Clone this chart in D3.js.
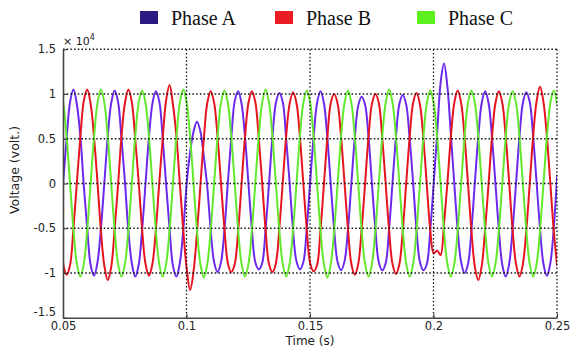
<!DOCTYPE html>
<html>
<head>
<meta charset="utf-8">
<script src="https://cdn.jsdelivr.net/npm/d3@7"></script>
<style>
  html, body { margin: 0; padding: 0; background: #fff; }
  svg { display: block; }
</style>
</head>
<body>
<div id="chart"></div>
<script>
// values in units of 1e4 volts, sampled every 1/720 s starting at tStart
const tStart = 0.04869;
const tStep = 1 / 720;

const phaseA = [
  -0.52, 0.02, 0.50, 0.91, 1.05, 0.88, 0.53, -0.02, -0.50, -0.91, -1.03, -0.88,
  -0.50, 0.01, 0.53, 0.90, 1.04, 0.91, 0.50, 0.02, -0.53, -0.89, -1.04, -0.91,
  -0.52, 0.00, 0.52, 0.89, 1.03, 0.92, 0.51, -0.01, -0.50, -0.92, -1.04, -0.89,
  -0.52, 0.00, 0.35, 0.58, 0.69, 0.58, 0.30, -0.04, -0.52, -0.88, -0.99, -0.88,
  -0.52, 0.01, 0.51, 0.92, 1.03, 0.89, 0.52, 0.00, -0.51, -0.88, -0.96, -0.89,
  -0.51, 0.00, 0.52, 0.90, 1.01, 0.91, 0.50, 0.01, -0.52, -0.87, -0.96, -0.88,
  -0.50, 0.02, 0.52, 0.90, 1.03, 0.90, 0.51, -0.01, -0.52, -0.88, -0.97, -0.87,
  -0.52, 0.00, 0.51, 0.87, 0.97, 0.88, 0.52, 0.00, -0.51, -0.88, -0.97, -0.89,
  -0.51, 0.01, 0.52, 0.89, 0.99, 0.88, 0.50, 0.01, -0.52, -0.88, -0.97, -0.90,
  -0.52, 0.00, 0.55, 1.12, 1.34, 1.08, 0.55, 0.00, -0.52, -0.88, -1.00, -0.90,
  -0.52, 0.01, 0.52, 0.90, 1.03, 0.90, 0.51, 0.00, -0.52, -0.91, -1.04, -0.90,
  -0.51, 0.00, 0.52, 0.90, 1.02, 0.91, 0.52, 0.01, -0.51, -0.90, -1.03, -0.89,
  -0.50, 0.10
];

const phaseB = [
  -0.50, -0.90, -1.02, -0.91, -0.50, 0.02, 0.52, 0.92, 1.05, 0.89, 0.51, 0.01,
  -0.53, -0.92, -1.08, -0.93, -0.51, -0.01, 0.53, 0.90, 1.05, 0.91, 0.50, 0.02,
  -0.51, -0.90, -1.03, -0.90, -0.52, 0.01, 0.50, 0.93, 1.10, 0.88, 0.53, 0.00,
  -0.52, -0.95, -1.19, -0.98, -0.55, -0.02, 0.50, 0.90, 1.03, 0.90, 0.52, 0.00,
  -0.50, -0.89, -0.99, -0.90, -0.53, 0.00, 0.52, 0.90, 1.03, 0.91, 0.51, 0.01,
  -0.52, -0.90, -0.99, -0.89, -0.50, 0.01, 0.53, 0.89, 1.02, 0.90, 0.52, 0.00,
  -0.51, -0.89, -0.98, -0.91, -0.52, -0.01, 0.51, 0.90, 1.00, 0.89, 0.52, 0.01,
  -0.50, -0.90, -1.02, -0.90, -0.51, 0.00, 0.52, 0.89, 1.00, 0.90, 0.51, 0.00,
  -0.52, -0.90, -1.01, -0.90, -0.52, 0.01, 0.52, 0.90, 1.01, 0.88, 0.50, -0.02,
  -0.52, -0.78, -0.75, -0.80, -0.45, 0.01, 0.52, 0.90, 1.04, 0.90, 0.52, 0.00,
  -0.53, -0.93, -1.08, -0.92, -0.51, 0.00, 0.52, 0.90, 1.03, 0.90, 0.52, 0.01,
  -0.52, -0.90, -1.04, -0.90, -0.52, 0.00, 0.53, 0.92, 1.08, 0.91, 0.52, 0.00,
  -0.53, -0.92
];

const phaseC = [
  1.04, 0.90, 0.52, 0.00, -0.52, -0.90, -1.04, -0.90, -0.52, 0.00, 0.52, 0.90,
  1.05, 0.90, 0.52, 0.00, -0.52, -0.90, -1.04, -0.90, -0.52, 0.00, 0.52, 0.90,
  1.04, 0.90, 0.52, 0.00, -0.52, -0.90, -1.04, -0.90, -0.52, 0.00, 0.52, 0.90,
  1.05, 0.90, 0.52, 0.00, -0.52, -0.90, -1.05, -0.90, -0.52, 0.00, 0.52, 0.90,
  1.04, 0.90, 0.52, 0.00, -0.52, -0.90, -1.04, -0.90, -0.52, 0.00, 0.52, 0.90,
  1.05, 0.90, 0.52, 0.00, -0.52, -0.90, -1.04, -0.90, -0.52, 0.00, 0.52, 0.90,
  1.04, 0.90, 0.52, 0.00, -0.52, -0.90, -1.05, -0.90, -0.52, 0.00, 0.52, 0.90,
  1.04, 0.90, 0.52, 0.00, -0.52, -0.90, -1.04, -0.90, -0.52, 0.00, 0.52, 0.90,
  1.05, 0.90, 0.52, 0.00, -0.52, -0.90, -1.04, -0.90, -0.52, 0.00, 0.52, 0.90,
  1.04, 0.90, 0.52, 0.00, -0.52, -0.90, -1.04, -0.90, -0.52, 0.00, 0.52, 0.90,
  1.04, 0.90, 0.52, 0.00, -0.52, -0.90, -1.04, -0.90, -0.52, 0.00, 0.52, 0.90,
  1.03, 0.90, 0.52, 0.00, -0.52, -0.90, -1.04, -0.90, -0.52, 0.00, 0.52, 0.90,
  1.04, 0.88
];

const phaseNames = ['Phase A', 'Phase B', 'Phase C'];
const lineColors = ['#6a2aec', '#e6141e', '#62e82c'];
const swatchColors = ['#2c1a82', '#ec1c24', '#5cf01c'];

const xTicks = [0.05, 0.1, 0.15, 0.2, 0.25];
const xTickLabels = ['0.05', '0.1', '0.15', '0.2', '0.25'];
const yTicks = [-1.5, -1, -0.5, 0, 0.5, 1, 1.5];
const yTickLabels = ['-1.5', '-1', '-0.5', '0', '0.5', '1', '1.5'];

const width = 570, height = 348;
const plotLeft = 63, plotRight = 557, plotTop = 49.25, plotBottom = 317.75;
const sansFont = 'DejaVu Sans, Liberation Sans, sans-serif';

const svg = d3.select('#chart').append('svg')
  .attr('width', width)
  .attr('height', height);

const x = d3.scaleLinear().domain([0.05, 0.25]).range([plotLeft, plotRight]);
const y = d3.scaleLinear().domain([-1.5, 1.5]).range([plotBottom, plotTop]);

svg.append('defs').append('clipPath').attr('id', 'plot-clip')
  .append('rect')
  .attr('x', plotLeft).attr('y', plotTop)
  .attr('width', plotRight - plotLeft).attr('height', plotBottom - plotTop);

// waveforms
const series = [phaseA, phaseB, phaseC];
const line = d3.line()
  .x((d, i) => x(tStart + i * tStep))
  .y(d => y(d))
  .curve(d3.curveCatmullRom);

svg.append('g').attr('clip-path', 'url(#plot-clip)')
  .selectAll('path')
  .data(series)
  .enter()
  .append('path')
  .attr('d', d => line(d))
  .attr('fill', 'none')
  .attr('stroke', (d, i) => lineColors[i])
  .attr('stroke-width', 2)
  .attr('stroke-linejoin', 'round');

// dotted grid (drawn on top, also closes the box at top and right)
const grid = svg.append('g')
  .attr('stroke', '#111')
  .attr('stroke-width', 1.3)
  .attr('stroke-dasharray', '1.5,2.2');

grid.selectAll('.hgrid')
  .data(yTicks.filter(v => v > -1.5))
  .enter()
  .append('line')
  .attr('x1', plotLeft).attr('x2', plotRight)
  .attr('y1', d => y(d)).attr('y2', d => y(d));

grid.selectAll('.vgrid')
  .data(xTicks.filter(v => v > 0.05))
  .enter()
  .append('line')
  .attr('y1', plotTop).attr('y2', plotBottom)
  .attr('x1', d => x(d)).attr('x2', d => x(d));

// axes
const xAxis = svg.append('g')
  .attr('transform', `translate(0,${plotBottom})`)
  .call(d3.axisBottom(x)
    .tickValues(xTicks)
    .tickFormat((d, i) => xTickLabels[i])
    .tickSizeInner(-4)
    .tickSizeOuter(0)
    .tickPadding(4));

const yAxis = svg.append('g')
  .attr('transform', `translate(${plotLeft},0)`)
  .call(d3.axisLeft(y)
    .tickValues(yTicks)
    .tickFormat((d, i) => yTickLabels[i])
    .tickSizeInner(-4)
    .tickSizeOuter(0)
    .tickPadding(7));

[xAxis, yAxis].forEach(g => {
  g.attr('font-family', sansFont)
    .attr('font-size', 11.5);
  g.select('.domain').attr('stroke', '#444').attr('stroke-width', 1.6);
  g.selectAll('.tick line').attr('stroke', '#333');
  g.selectAll('.tick text').attr('fill', '#222');
});

// lift the bottom y label a little so it clears the first x label
yAxis.selectAll('.tick text')
  .filter(d => d === -1.5)
  .attr('y', -5.5);

// exponent
const expo = svg.append('text')
  .attr('x', plotLeft)
  .attr('y', 45)
  .attr('font-family', sansFont)
  .attr('font-size', 11)
  .attr('fill', '#222')
  .text('× 10');
expo.append('tspan')
  .attr('dy', -5)
  .attr('font-size', 8)
  .text('4');

// axis titles
svg.append('text')
  .attr('x', (plotLeft + plotRight) / 2)
  .attr('y', 345)
  .attr('text-anchor', 'middle')
  .attr('font-family', sansFont)
  .attr('font-size', 12)
  .attr('fill', '#222')
  .text('Time (s)');

svg.append('text')
  .attr('transform', 'translate(18.5,170) rotate(-90)')
  .attr('text-anchor', 'middle')
  .attr('font-family', sansFont)
  .attr('font-size', 12.5)
  .attr('fill', '#222')
  .text('Voltage (volt.)');

// legend
const legendX = [140, 275, 417];
const legend = svg.append('g');
legend.selectAll('rect')
  .data(phaseNames)
  .enter()
  .append('rect')
  .attr('x', (d, i) => legendX[i])
  .attr('y', 11)
  .attr('width', 18)
  .attr('height', 13)
  .attr('fill', (d, i) => swatchColors[i]);

legend.selectAll('text')
  .data(phaseNames)
  .enter()
  .append('text')
  .attr('x', (d, i) => legendX[i] + 31)
  .attr('y', 25)
  .attr('font-family', 'Liberation Serif, Times New Roman, serif')
  .attr('font-size', 20)
  .attr('fill', '#111')
  .text(d => d);
</script>
</body>
</html>
